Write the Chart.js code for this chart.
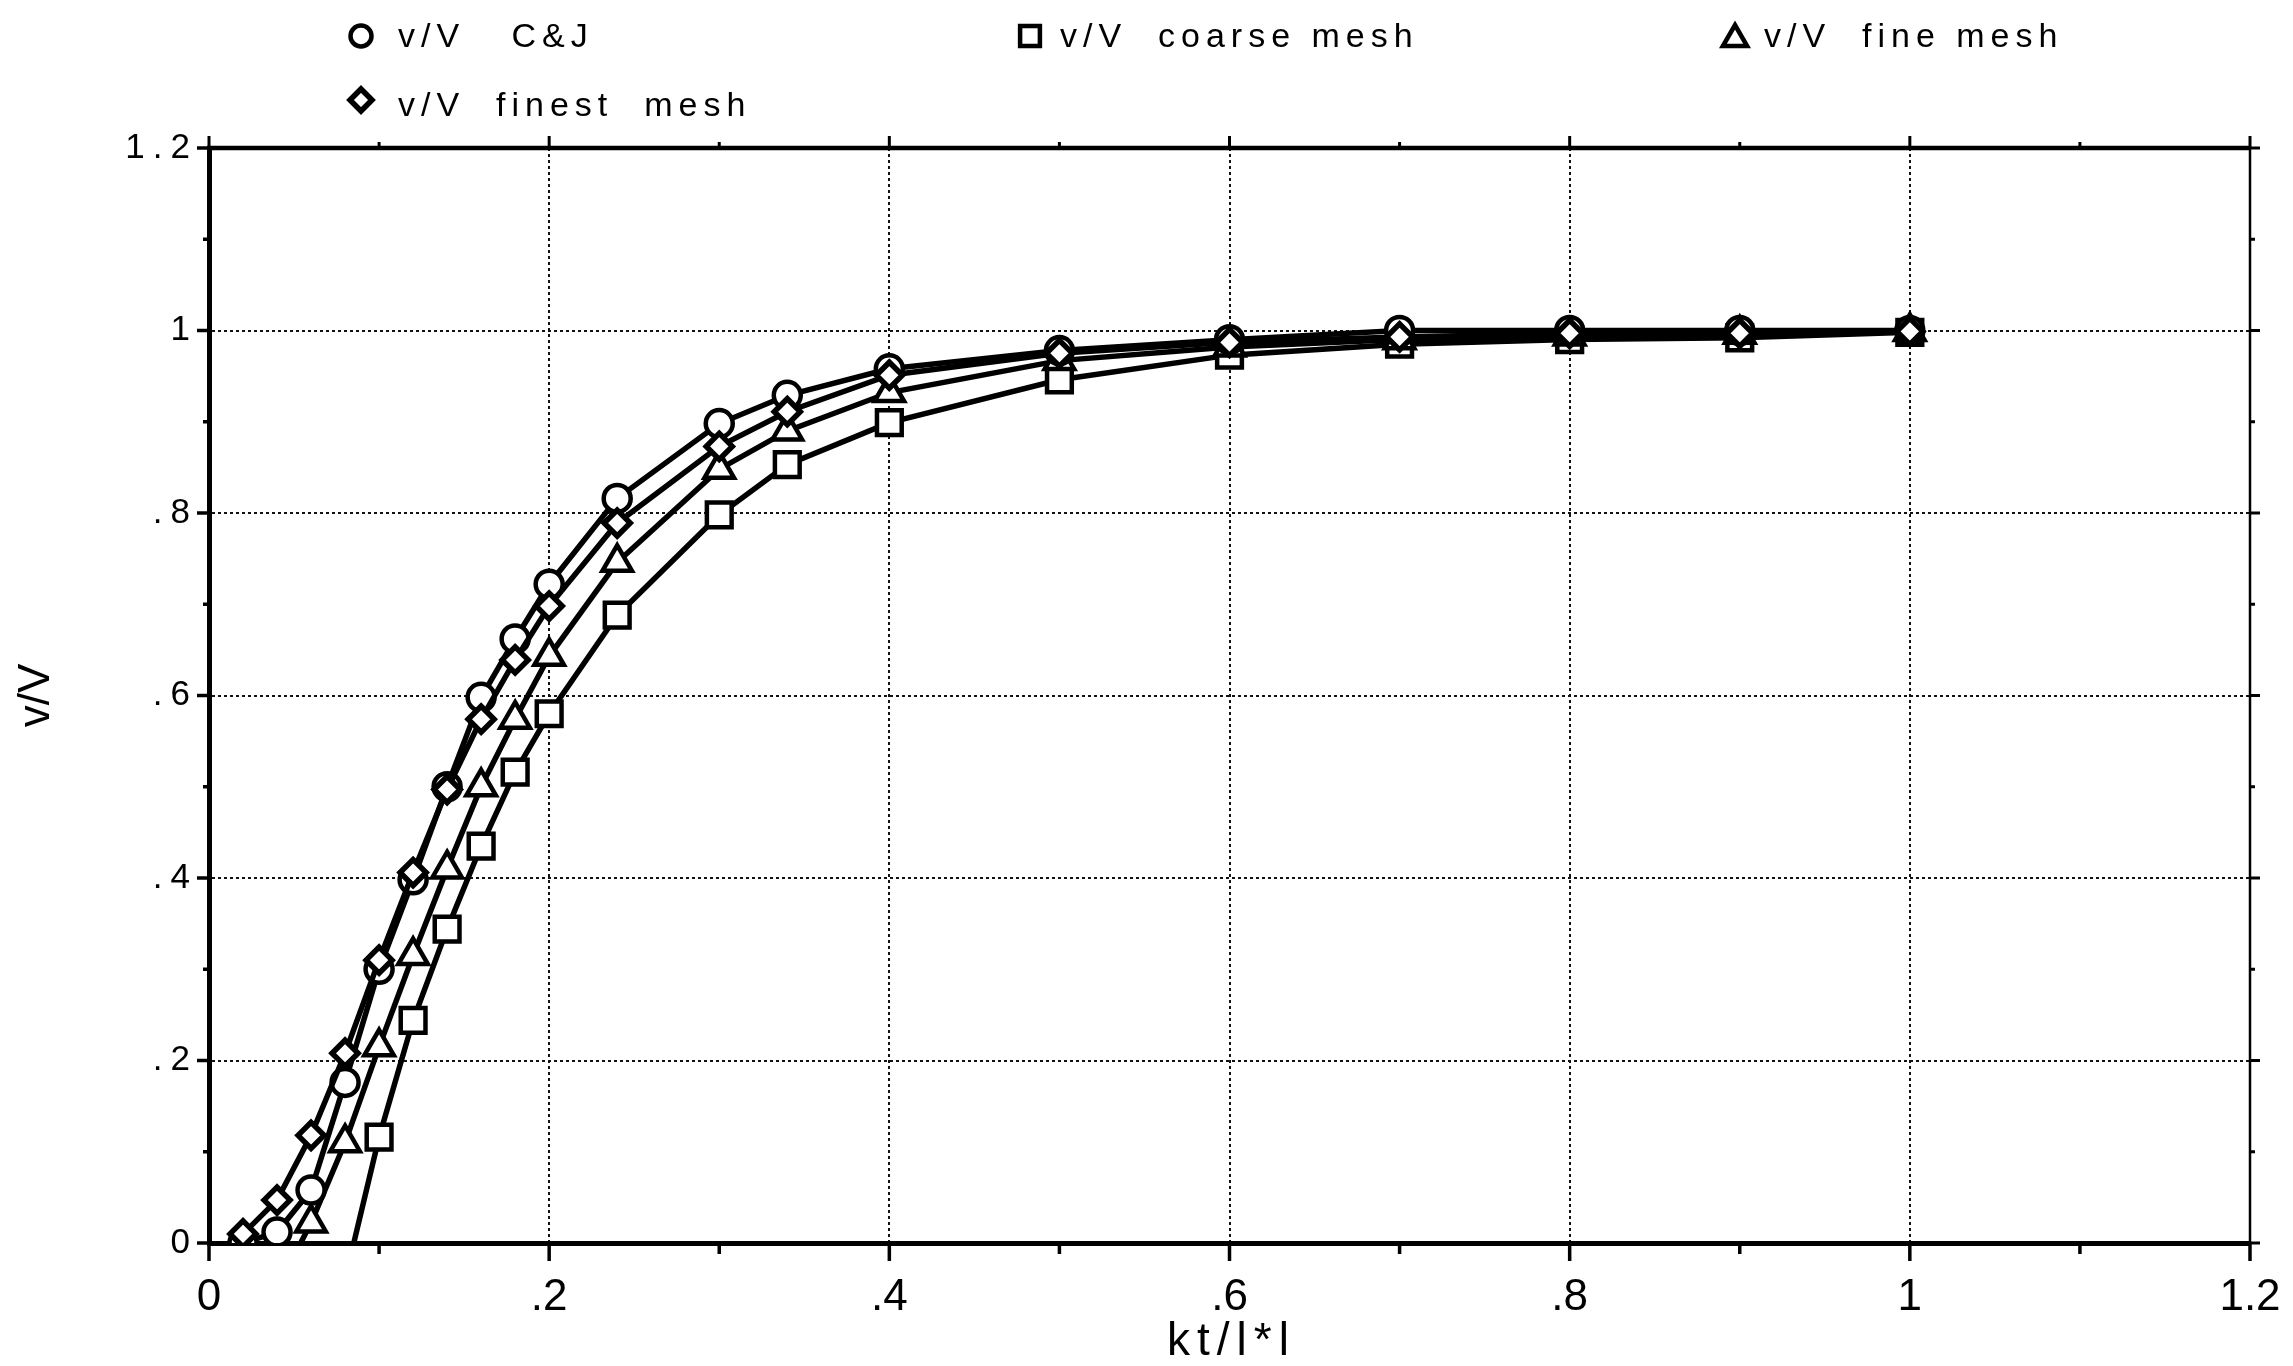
<!DOCTYPE html>
<html>
<head>
<meta charset="utf-8">
<title>v/V against kt/l*l</title>
<script src="https://cdn.jsdelivr.net/npm/chart.js@4.4.1/dist/chart.umd.min.js"></script>
<style>
  html, body { margin: 0; padding: 0; background: #ffffff; }
  #wrap { position: relative; width: 2293px; height: 1366px; }
</style>
</head>
<body>
<div id="wrap"><canvas id="chart"></canvas></div>
<script>
// kt/l*l positions shared by all series (null = no point at that position)
const ktValues = [0.02, 0.04, 0.06, 0.08, 0.10, 0.12, 0.14, 0.16, 0.18, 0.20,
                  0.24, 0.30, 0.34, 0.40, 0.50, 0.60, 0.70, 0.80, 0.90, 1.00];

const vCJ     = [0.0, 0.012, 0.058, 0.176, 0.300, 0.398, 0.500, 0.598, 0.662, 0.722,
                 0.816, 0.898, 0.929, 0.958, 0.978, 0.990, 1.000, 1.000, 1.000, 1.000];
const vCoarse = [null, null, null, -0.040, 0.116, 0.244, 0.344, 0.435, 0.516, 0.580,
                 0.688, 0.798, 0.853, 0.899, 0.946, 0.973, 0.985, 0.990, 0.992, 0.998];
const vFine   = [null, -0.050, 0.022, 0.110, 0.215, 0.315, 0.410, 0.500, 0.574, 0.643,
                 0.746, 0.848, 0.890, 0.932, 0.967, 0.982, 0.990, 0.994, 0.996, 0.999];
const vFinest = [0.010, 0.047, 0.118, 0.208, 0.310, 0.406, 0.497, 0.574, 0.639, 0.698,
                 0.789, 0.873, 0.911, 0.951, 0.975, 0.987, 0.993, 0.997, 0.997, 0.999];

const seriesNames = ['v/V   C&J', 'v/V  coarse mesh', 'v/V  fine mesh', 'v/V  finest  mesh'];

const xTickLabels = ['0', '.2', '.4', '.6', '.8', '1', '1.2'];
const yTickLabels = ['0', '.2', '.4', '.6', '.8', '1', '1.2'];

const toPoints = vals => ktValues
    .map((x, i) => ({ x: x, y: vals[i] }))
    .filter(p => p.y !== null);

const FONT = "'Liberation Sans', Arial, Helvetica, sans-serif";

// legend: marker + text placed like the original figure
const legendItems = [
    { style: 'circle',   r: 10.5, bw: 4.5, x: 361,  y: 36,  tx: 398,  ty: 47,  text: seriesNames[0] },
    { style: 'rect',     r: 14,   bw: 4.5, x: 1030, y: 36,  tx: 1060, ty: 47,  text: seriesNames[1] },
    { style: 'triangle', r: 14,   bw: 4.5, x: 1735, y: 39,  tx: 1764, ty: 47,  text: seriesNames[2] },
    { style: 'rectRot',  r: 11,   bw: 5.5, x: 361,  y: 100, tx: 398,  ty: 116, text: seriesNames[3] }
];

const framePlugin = {
    id: 'frame',
    afterDatasetsDraw(chart) {
        // y tick labels are drawn after datasets (ticks.z = 1), spaced out like the scan
        chart.ctx.letterSpacing = '8px';
    },
    afterDraw(chart) {
        const { ctx, chartArea: a, scales: { x, y } } = chart;
        ctx.letterSpacing = '0px';
        ctx.save();
        ctx.strokeStyle = '#000';
        ctx.lineCap = 'butt';
        const line = (x1, y1, x2, y2) => {
            ctx.beginPath(); ctx.moveTo(x1, y1); ctx.lineTo(x2, y2); ctx.stroke();
        };

        // top and right frame
        ctx.lineWidth = 4.5;
        line(a.left - 2, a.top, a.right, a.top);
        ctx.lineWidth = 2.5;
        line(a.right, a.top, a.right, a.bottom);

        // tick marks on all four sides, major every 0.2, minor every 0.1
        x.ticks.forEach((t, i) => {
            const px = x.getPixelForValue(t.value);
            const major = i % 2 === 0;
            ctx.lineWidth = 3.5;
            line(px, a.bottom, px, a.bottom + (major ? 18 : 11));
            ctx.lineWidth = 3;
            line(px, a.top, px, a.top - (major ? 12 : 6));
        });
        y.ticks.forEach((t, i) => {
            const py = y.getPixelForValue(t.value);
            const major = i % 2 === 0;
            ctx.lineWidth = 3.5;
            line(a.left, py, a.left - (major ? 12 : 6), py);
            ctx.lineWidth = 3;
            line(a.right, py, a.right + (major ? 10 : 5), py);
        });

        // legend
        legendItems.forEach(it => {
            ctx.save();
            ctx.fillStyle = '#fff';
            ctx.strokeStyle = '#000';
            ctx.lineWidth = it.bw;
            Chart.helpers.drawPoint(ctx, { pointStyle: it.style, radius: it.r, borderWidth: it.bw, rotation: 0 }, it.x, it.y);
            ctx.restore();
            ctx.save();
            ctx.font = '34px ' + FONT;
            ctx.letterSpacing = '6px';
            ctx.fillStyle = '#000';
            ctx.textAlign = 'left';
            ctx.textBaseline = 'alphabetic';
            ctx.fillText(it.text, it.tx, it.ty);
            ctx.restore();
        });

        // x axis title, letter spaced
        ctx.save();
        ctx.font = '46px ' + FONT;
        ctx.letterSpacing = '7px';
        ctx.fillStyle = '#000';
        ctx.textAlign = 'center';
        ctx.textBaseline = 'alphabetic';
        ctx.fillText('kt/l*l', (a.left + a.right) / 2 + 2, 1355);
        ctx.restore();

        ctx.restore();
    }
};

const baseSet = {
    borderColor: '#000',
    pointBorderColor: '#000',
    pointBackgroundColor: '#fff',
    backgroundColor: '#fff',
    borderWidth: 5.5,
    pointBorderWidth: 4.5,
    tension: 0,
    fill: false
};

const gridColor = c => {
    const k = Math.round(c.tick.value * 10);
    return (k % 2 === 0 && k > 0 && k < 12) ? '#111' : 'rgba(0,0,0,0)';
};

new Chart(document.getElementById('chart'), {
    type: 'line',
    data: {
        datasets: [
            Object.assign({}, baseSet, { label: seriesNames[1], data: toPoints(vCoarse), pointStyle: 'rect', pointRadius: 17.5, order: 4 }),
            Object.assign({}, baseSet, { label: seriesNames[2], data: toPoints(vFine), pointStyle: 'triangle', pointRadius: 17, order: 3 }),
            Object.assign({}, baseSet, { label: seriesNames[0], data: toPoints(vCJ), pointStyle: 'circle', pointRadius: 13.5, order: 2 }),
            Object.assign({}, baseSet, { label: seriesNames[3], data: toPoints(vFinest), pointStyle: 'rectRot', pointRadius: 13, pointBorderWidth: 5.5, order: 1 })
        ]
    },
    options: {
        responsive: true,
        maintainAspectRatio: false,
        animation: false,
        layout: { padding: { top: 148, right: 43, bottom: 0, left: 0 } },
        plugins: {
            legend: { display: false },
            tooltip: { enabled: false }
        },
        scales: {
            x: {
                type: 'linear',
                min: 0,
                max: 1.2,
                afterFit: s => { s.height = 123; s.paddingLeft = 0; s.paddingRight = 0; },
                ticks: {
                    stepSize: 0.1,
                    autoSkip: false,
                    maxRotation: 0,
                    padding: 28,
                    color: '#000',
                    font: { family: FONT, size: 44 },
                    callback: (v, i) => (i % 2 ? '' : xTickLabels[i / 2])
                },
                grid: { drawTicks: false, lineWidth: 2, color: gridColor },
                border: { display: true, color: '#000', width: 5, dash: [3, 3] }
            },
            y: {
                type: 'linear',
                min: 0,
                max: 1.2,
                afterFit: s => { s.width = 209; s.paddingTop = 0; s.paddingBottom = 0; },
                title: {
                    display: true,
                    text: 'v/V',
                    color: '#000',
                    font: { family: FONT, size: 44 },
                    padding: { top: 10, bottom: 0 }
                },
                ticks: {
                    stepSize: 0.1,
                    autoSkip: false,
                    padding: 11,
                    z: 1,
                    color: '#000',
                    font: { family: FONT, size: 35 },
                    callback: (v, i) => (i % 2 ? '' : yTickLabels[i / 2])
                },
                grid: { drawTicks: false, lineWidth: 2, color: gridColor },
                border: { display: true, color: '#000', width: 5, dash: [3, 3] }
            }
        }
    },
    plugins: [framePlugin]
});
</script>
</body>
</html>
